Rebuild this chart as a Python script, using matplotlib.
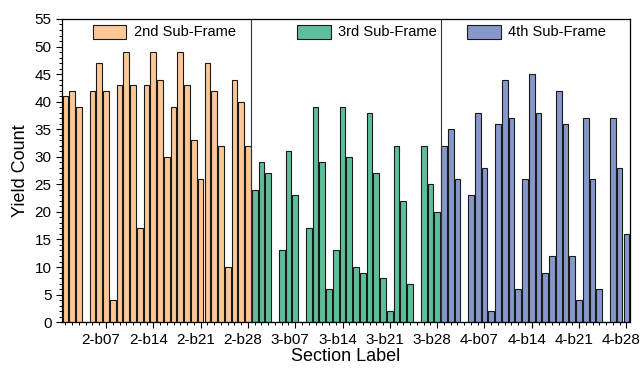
import numpy as np
import matplotlib.pyplot as plt
import matplotlib.transforms as mtransforms
from matplotlib.legend import Legend

plt.rcParams['font.family'] = ['Liberation Sans', 'DejaVu Sans']

# yield counts per section, 28 sections in each sub-frame
frame2 = [41, 42, 39, 0, 42, 47, 42, 4, 43, 49, 43, 17, 43, 49, 44, 30,
          39, 49, 43, 33, 26, 47, 42, 32, 10, 44, 40, 32]
frame3 = [24, 29, 27, 0, 13, 31, 23, 0, 17, 39, 29, 6, 13, 39, 30, 10,
          9, 38, 27, 8, 2, 32, 22, 7, 0, 32, 25, 20]
frame4 = [32, 35, 26, 0, 23, 38, 28, 2, 36, 44, 37, 6, 26, 45, 38, 9,
          12, 42, 36, 12, 4, 37, 26, 6, 0, 37, 28, 16]
frame_names = ["2nd Sub-Frame", "3rd Sub-Frame", "4th Sub-Frame"]
frame_prefix = ["2", "3", "4"]
colors = ["#FDC895", "#5DBF9A", "#8698CA"]
tick_sections = [7, 14, 21, 28]

fig = plt.figure(figsize=(6.4, 3.72), dpi=100)
ax = fig.add_axes([0.097, 0.134, 0.887, 0.815])

n = len(frame2)
handles = []
for i, vals in enumerate([frame2, frame3, frame4]):
    x = np.arange(1, n + 1) + i * n
    b = ax.bar(x, vals, width=0.85, color=colors[i], edgecolor="#1a1a1a",
               linewidth=0.8, label=frame_names[i])
    handles.append(b)

# dividers between sub-frames
for k in (1, 2):
    ax.axvline(k * n + 0.5, color="#333333", linewidth=0.8)

ax.set_xlim(0.5, 3 * n + 0.5)
ax.set_ylim(0, 55)

major_x = []
major_lbl = []
for i, p in enumerate(frame_prefix):
    for s in tick_sections:
        major_x.append(i * n + s)
        major_lbl.append("%s-b%02d" % (p, s))
ax.set_xticks(major_x)
ax.set_xticklabels(major_lbl, fontsize=11)
ax.set_xticks(np.arange(1, 3 * n + 1), minor=True)
ax.set_yticks(np.arange(0, 56, 5))
ax.set_yticks(np.arange(0, 56, 1), minor=True)
ax.tick_params(axis='y', labelsize=11)
ax.tick_params(which='major', direction='out', length=4, width=0.8)
ax.tick_params(which='minor', direction='out', length=2.5, width=0.7)

# nudge x tick labels slightly left
shift = mtransforms.ScaledTranslation(-5 / 100, 0, fig.dpi_scale_trans)
for lbl in ax.get_xticklabels():
    lbl.set_transform(lbl.get_transform() + shift)

for sp in ax.spines.values():
    sp.set_linewidth(0.9)

ax.set_xlabel("Section Label", fontsize=13, labelpad=1)
ax.set_ylabel("Yield Count", fontsize=13)

# one legend entry centred in each sub-frame
trans = mtransforms.blended_transform_factory(ax.transData, ax.transAxes)
centers = [15.6, 45.6, 70.7]
for i, h in enumerate(handles):
    leg = Legend(ax, [h], [frame_names[i]], loc='center',
                 bbox_to_anchor=(centers[i], 0.957), bbox_transform=trans,
                 frameon=False, fontsize=10.5, handlelength=2.3,
                 handleheight=1.1, handletextpad=0.5, borderpad=0)
    ax.add_artist(leg)

fig.savefig("out.png", dpi=100)
